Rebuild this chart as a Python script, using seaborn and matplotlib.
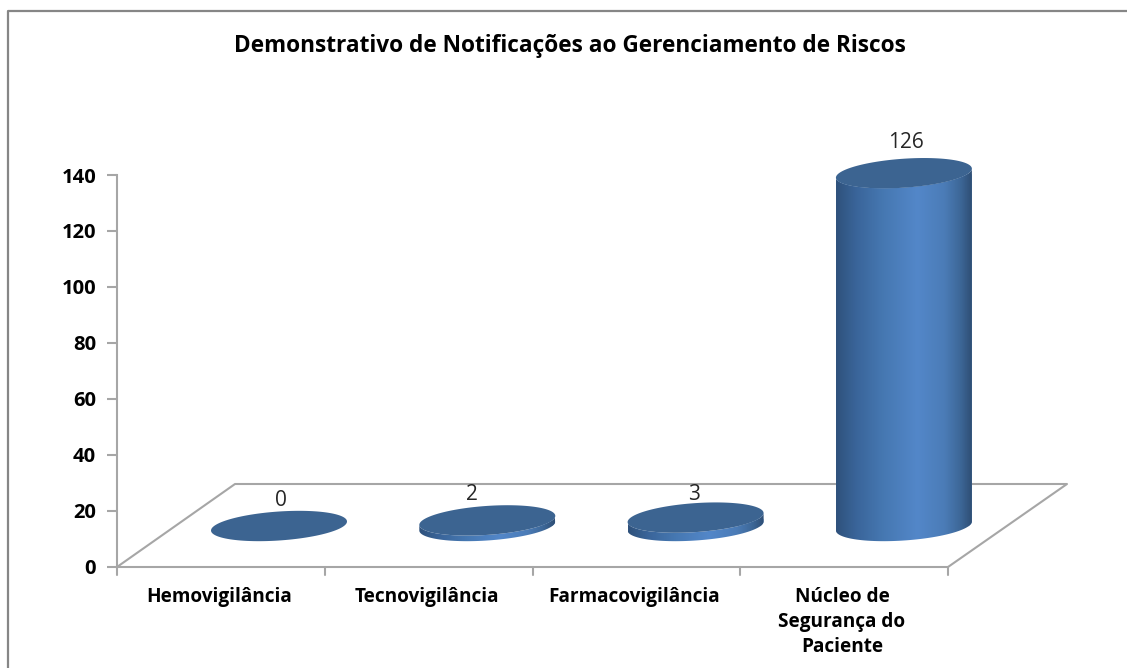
import numpy as np
import pandas as pd
import seaborn as sns
import matplotlib.pyplot as plt
from matplotlib.lines import Line2D
from matplotlib.patches import Polygon
from matplotlib.colors import LinearSegmentedColormap

categorias = ['Hemovigilância', 'Tecnovigilância', 'Farmacovigilância', 'Núcleo de\nSegurança do\nPaciente']
notificacoes = [0, 2, 3, 126]
ticks_y = [0, 20, 40, 60, 80, 100, 120, 140]
titulo = 'Demonstrativo de Notificações ao Gerenciamento de Riscos'

W, H = 1127, 668
PX_UN = 2.8      # pixels por notificacao
PX_CAT = 207.75  # pixels por categoria no eixo
PX_BAR = 208.3   # idem, nas barras (perspectiva)
CINZA = '#a6a6a6'
FONTE = 'Open Sans'

# ajuste fino dos rotulos de valor, em pixels (o original nao e regular)
ajuste_dx = [2, -15, -2, 2]
ajuste_dy = [10, 11, 8, 15]

sns.set_theme(style='white')
plt.rcParams['font.family'] = [FONTE, 'DejaVu Sans']

df = pd.DataFrame({'categoria': categorias, 'notificacoes': notificacoes})

fig = plt.figure(figsize=(W / 100, H / 100), dpi=100, facecolor='white')


def caixa(x0, y0, x1, y1):
    return [x0 / W, 1 - y1 / H, (x1 - x0) / W, (y1 - y0) / H]


def linha(xs, ys, cor=CINZA, lw=1.5):
    fig.add_artist(Line2D([x / W for x in xs], [1 - y / H for y in ys], color=cor, lw=lw, zorder=-1))


# moldura do grafico (so topo e esquerda aparecem no recorte)
linha([1127, 8, 8], [11, 11, 668], cor='#868686', lw=1.6)

# eixo principal (parede e rotulos)
ax = fig.add_axes(caixa(117, 175, 948, 567))
ax.set_xlim(-0.5, 3.5)
ax.set_ylim(0, 140)
ax.patch.set_alpha(0)
for lado in ['top', 'right', 'bottom']:
    ax.spines[lado].set_visible(False)
ax.spines['left'].set_color(CINZA)
ax.spines['left'].set_linewidth(1.5)
ax.set_yticks(ticks_y)
ax.set_yticklabels(ticks_y, fontsize=14.5, fontweight='bold', color='black')
ax.set_xticks([])
ax.tick_params(axis='y', length=7, width=1.5, color=CINZA, pad=8, left=True)
for i in range(5):
    x = 117 + i * PX_CAT
    linha([x, x], [567, 575])
for i, nome in enumerate(categorias):
    ax.text(i - 0.01, -7, nome, ha='center', va='top', fontsize=13.7, fontweight='bold',
            color='black', linespacing=1.33)

# chao em perspectiva
linha([948, 117, 235, 1067, 948], [567, 567, 484, 484, 567])

# barras: eixo transparente sobre a figura inteira, origem no centro da base
ax3d = fig.add_axes([0, 0, 1, 1])
ax3d.patch.set_alpha(0)
sns.barplot(data=df, x='categoria', y='notificacoes', color='#4f81bd', saturation=1,
            width=136 / PX_BAR, ax=ax3d)
ax3d.axis('off')

cmap = LinearSegmentedColormap.from_list('cil', [(0, '#2f527c'), (0.15, '#3a659a'), (0.35, '#4678b2'),
                                                 (0.6, '#5387c9'), (0.8, '#4b7cb7'),
                                                 (0.92, '#3d6797'), (1, '#2f4f76')])
grad = np.linspace(0, 1, 200)[None, :]
b = 14.5 / PX_UN
s = 4.5 / PX_UN
t = np.linspace(np.pi, 2 * np.pi, 60)

for barra, valor, dx, dy in zip(list(ax3d.patches), notificacoes, ajuste_dx, ajuste_dy):
    x0, larg = barra.get_x(), barra.get_width()
    cx, a = x0 + larg / 2, larg / 2
    xs = cx + a * np.cos(t)
    meia = b * np.sin(t) + s * np.cos(t)
    # corpo do cilindro = meia elipse de baixo + meia elipse do topo
    corpo = np.vstack([np.c_[xs, meia], np.c_[xs, meia + valor][::-1]])
    forma = Polygon(corpo, closed=True, transform=ax3d.transData, fc='none', ec='none')
    ax3d.add_patch(forma)
    barra.set_clip_path(forma)
    img = ax3d.imshow(grad, extent=(x0, x0 + larg, -b - s, valor + b + s), aspect='auto',
                      cmap=cmap, zorder=3, interpolation='bilinear')
    img.set_clip_path(forma)
    tt = np.linspace(0, 2 * np.pi, 120)
    topo = np.c_[cx + a * np.cos(tt), valor + b * np.sin(tt) + s * np.cos(tt)]
    ax3d.add_patch(Polygon(topo, closed=True, fc='#3c6491', ec='none', zorder=4))
    ax3d.text(cx + dx / PX_BAR, valor + (15.2 + dy) / PX_UN, str(valor), ha='center', va='center',
              fontsize=15, color='#262626', zorder=5)
ax3d.set_xlim(-279 / PX_BAR, (W - 279) / PX_BAR)
ax3d.set_ylim((526 - H) / PX_UN, 526 / PX_UN)

fig.text(570 / W, 1 - 46 / H, titulo, ha='center', va='center', fontsize=16.3,
         fontweight='bold', color='black')

fig.savefig('out.png', dpi=100)
